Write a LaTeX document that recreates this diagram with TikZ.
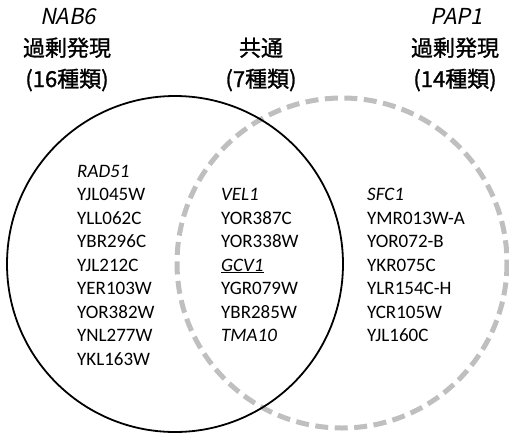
\documentclass[tikz,border=0pt]{standalone}
\usepackage{fontspec}
\setmainfont{Carlito}
\newfontfamily\jpf[FakeBold=1.2]{Noto Sans CJK JP}
\newfontfamily\jpit[FakeSlant=0.2]{Noto Sans CJK JP}
\begin{document}
\begin{tikzpicture}[x=1pt,y=-1pt,
  gene/.style={anchor=base west,inner sep=0pt,font=\fontsize{19}{23}\selectfont},
  head/.style={anchor=base,inner sep=0pt,font=\fontsize{22}{26}\jpf},
  headit/.style={anchor=base,inner sep=0pt,font=\fontsize{22}{26}\jpit},
  setA/.style={draw=black,line width=1.8pt},
  setB/.style={draw=black!25,line width=5pt,dash pattern=on 13pt off 6.5pt}]
\useasboundingbox (0,0) rectangle (509,432);
\draw[setB] (342,263) circle[radius=165];
\draw[setA] (175,264) circle[radius=168];
% headers
\node[headit] (hA) at (68,24) {NAB6};
\node[head] (hA2) at (67,56) {過剰発現};
\node[head] (hA3) at (67,87) {(16種類)};
\node[head] (hC2) at (261,56) {共通};
\node[head] (hC3) at (261,87) {(7種類)};
\node[headit] (hB) at (457,24) {PAP1};
\node[head] (hB2) at (455,56) {過剰発現};
\node[head] (hB3) at (455,87) {(14種類)};
% left list
\foreach \t [count=\i from 0] in {\textit{RAD51},YJL045W,YLL062C,YBR296C,YJL212C,YER103W,YOR382W,YNL277W,YKL163W}
  \node[gene] (L\i) at (77,177+23.5*\i) {\t};
% middle list
\foreach \t [count=\i from 1] in {\textit{VEL1},YOR387C,YOR338W,\underline{\textit{GCV1}},YGR079W,YBR285W,\textit{TMA10}}
  \node[gene] (M\i) at (221,177+23.5*\i) {\t};
% right list
\foreach \t [count=\i from 1] in {\textit{SFC1},YMR013W-A,YOR072-B,YKR075C,YLR154C-H,YCR105W,YJL160C}
  \node[gene] (R\i) at (367,177+23.5*\i) {\t};
\end{tikzpicture}
\end{document}
